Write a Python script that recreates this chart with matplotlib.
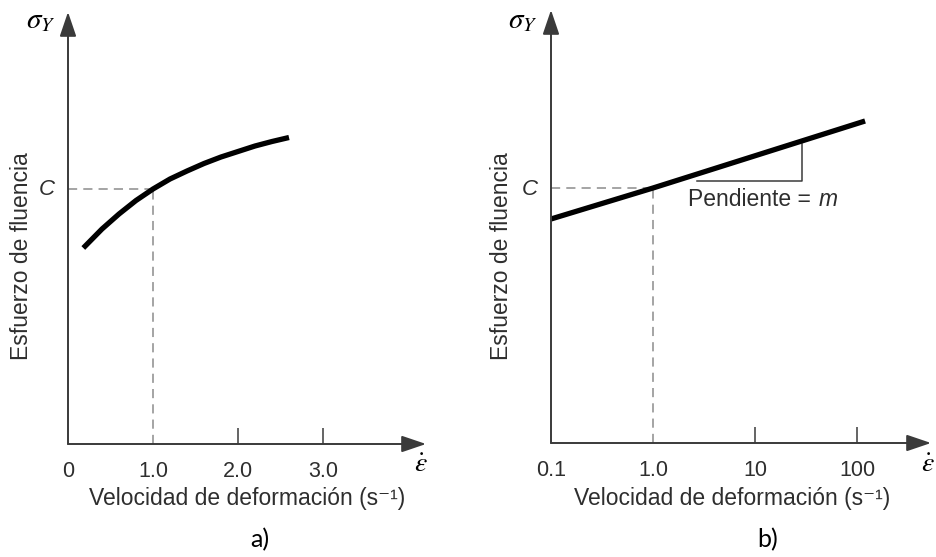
import matplotlib
matplotlib.use("Agg")
import matplotlib.pyplot as plt
import numpy as np

plt.rcParams['font.family'] = ['Liberation Sans', 'DejaVu Sans']
plt.rcParams['mathtext.fontset'] = 'stix'

# a) yield stress vs strain rate (linear scale), y in arbitrary units
rate_a = [0.18, 0.4, 0.6, 0.8, 1.0, 1.2, 1.4, 1.6, 1.8, 2.0, 2.2, 2.4, 2.6]
stress_a = [196, 215, 230, 243.5, 255, 265, 273, 280.5, 287, 292.5, 298, 302.5, 306.5]
ticks_a = [0, 1, 2, 3]
ticklabels_a = ["0", "1.0", "2.0", "3.0"]

# b) yield stress vs strain rate (log scale)
rate_b = [0.1, 1.0, 120]
stress_b = [224, 255, 322]
ticks_b = [0.1, 1, 10, 100]
ticklabels_b = ["0.1", "1.0", "10", "100"]
slope_tri_x = [2.7, 28.9, 28.9]
slope_tri_y = [262, 262, 299]

C_level = 255
C_rate = 1.0

W, H = 936, 557
dark = '#2e2e2e'
axcol = '#3a3a3a'
dashcol = '#8c8c8c'

fig = plt.figure(figsize=(W / 100, H / 100), dpi=100)


def fx(px):
    return px / W


def fy(py):
    return 1 - py / H


def setup(ax, ticks, labels):
    for s in ax.spines.values():
        s.set_visible(False)
    ax.set_xticks(ticks)
    ax.set_xticklabels(labels, fontsize=15.5, color=dark)
    ax.minorticks_off()
    ax.tick_params(axis='x', direction='in', length=11.5, width=1.1,
                   color=axcol, pad=12)
    ax.set_yticks([])
    ticklist = ax.xaxis.get_major_ticks()
    ticklist[0].tick1line.set_visible(False)
    ticklist[1].tick1line.set_visible(False)
    arrow = dict(arrowstyle='-|>,head_length=1.0,head_width=0.34',
                 color=axcol, lw=1.4, shrinkA=0, shrinkB=0, mutation_scale=15)
    ax.annotate('', xy=(1, 0), xytext=(0, 0), xycoords='axes fraction',
                arrowprops=arrow, annotation_clip=False)
    ax.annotate('', xy=(0, 1), xytext=(0, 0), xycoords='axes fraction',
                arrowprops=arrow, annotation_clip=False)


# panel a
x0a, yba, xra, yta = 68, 444, 426, 12
ax1 = fig.add_axes([fx(x0a), fy(yba), fx(xra) - fx(x0a), fy(yta) - fy(yba)])
ax1.set_xlim(0, (xra - x0a) / 85)
ax1.set_ylim(0, yba - yta)
setup(ax1, ticks_a, ticklabels_a)
ax1.plot([0, C_rate], [C_level, C_level], ls=(0, (6, 4)), color=dashcol, lw=1.1)
ax1.plot([C_rate, C_rate], [0, C_level], ls=(0, (6, 4)), color=dashcol, lw=1.1)
ax1.plot(rate_a, stress_a, color='black', lw=3.8, solid_capstyle='butt',
         solid_joinstyle='round')

# panel b
x0b, ybb, xrb, ytb = 551, 443, 931, 10
ax2 = fig.add_axes([fx(x0b), fy(ybb), fx(xrb) - fx(x0b), fy(ytb) - fy(ybb)])
ax2.set_xscale('log')
ax2.set_xlim(0.1, 0.1 * 10 ** ((xrb - x0b) / 102))
ax2.set_ylim(0, ybb - ytb)
setup(ax2, ticks_b, ticklabels_b)
ax2.plot([0.1, C_rate], [C_level, C_level], ls=(0, (6, 4)), color=dashcol, lw=1.1)
ax2.plot([C_rate, C_rate], [0, C_level], ls=(0, (6, 4)), color=dashcol, lw=1.1)
ax2.plot(slope_tri_x, slope_tri_y, color=axcol, lw=1.1)
ax2.plot(rate_b, stress_b, color='black', lw=3.8, solid_capstyle='butt')
ax2.text(2.2, 243, "Pendiente =", fontsize=16.5, color=dark,
         ha='left', va='center')
fig.text(fx(828), fy(200), "m", fontsize=16.5, style='italic', color=dark,
         ha='center', va='center')

# labels
for xlc, ylx, C_x, sig_x, eps_x, tag, tag_x in [
        (247, 22, 47, 41, 421, "a)", 260),
        (732, 502, 530, 523, 928, "b)", 768)]:
    fig.text(fx(xlc), fy(499), "Velocidad de deformación (s⁻¹)", fontsize=16.5,
             color=dark, ha='center', va='center')
    fig.text(fx(ylx), fy(256), "Esfuerzo de fluencia", fontsize=16.5,
             color=dark, ha='center', va='center', rotation=90)
    fig.text(fx(C_x), fy(190), "C", fontsize=16, style='italic',
             color=dark, ha='center', va='center')
    fig.text(fx(sig_x), fy(20), r"$\sigma_Y$", fontsize=21,
             color='black', ha='center', va='center')
    fig.text(fx(eps_x), fy(465), r"$\dot{\varepsilon}$", fontsize=20,
             color='black', ha='center', va='center')
    fig.text(fx(tag_x), fy(540), tag, fontsize=18, family='Lato',
             color='black', ha='center', va='center')

fig.savefig("out.png", dpi=100)
